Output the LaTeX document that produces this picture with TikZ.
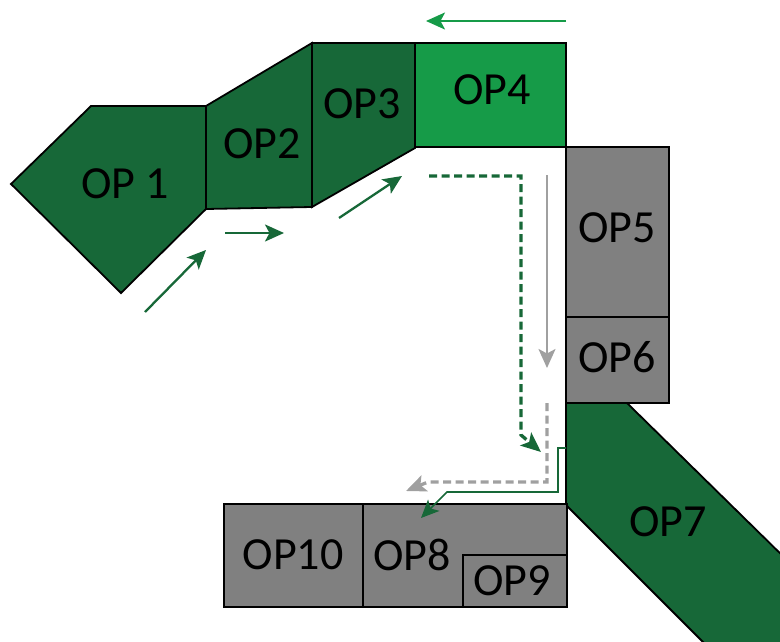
\documentclass[tikz,border=0pt]{standalone}
\usepackage{fontspec}
\setmainfont{Carlito}
\usetikzlibrary{arrows.meta}
\definecolor{opdark}{RGB}{23,104,56}
\definecolor{opbright}{RGB}{22,155,72}
\definecolor{opgray}{RGB}{128,128,128}
\definecolor{flowgray}{RGB}{160,160,160}

\begin{document}
\begin{tikzpicture}[x=1pt,y=-1pt,
  station/.style={draw=black, line width=1.8pt, line join=miter},
  darkst/.style={station, fill=opdark},
  brightst/.style={station, fill=opbright},
  grayst/.style={station, fill=opgray},
  lbl/.style={font=\fontsize{46}{50}\selectfont, inner sep=0pt},
  flow/.style={line width=2.3pt, -{Stealth[length=19pt,width=17pt,inset=4.5pt]}},
  dashflow/.style={line width=3.3pt, dash pattern=on 8pt off 4.5pt,
    -{Stealth[length=20pt,width=17pt,inset=4.5pt]}},
  thinflow/.style={line width=1.6pt, -{Stealth[length=18pt,width=16pt,inset=4.5pt]}}
]
\useasboundingbox (0,0) rectangle (780,642);

% station outlines
\draw[darkst] (11,184) -- (91,106) -- (206,106) -- (206,209) -- (121,293) -- cycle;
\draw[darkst] (206,106) -- (312,43) -- (312,207) -- (206,209) -- cycle;
\draw[darkst] (312,43) -- (415,43) -- (415,148) -- (312,207) -- cycle;
\draw[brightst] (415,43) rectangle (566,147);
\begin{scope}
  \clip (0,0) rectangle (780,642);
  \draw[darkst] (566,403) -- (627,403) -- (900,671) -- (900,800) -- (861,800) -- (566,505) -- cycle;
\end{scope}
\draw[grayst] (566,147) rectangle (669,317);
\draw[grayst] (566,317) rectangle (669,403);
\draw[grayst] (224,504) rectangle (363,607);
\draw[grayst] (363,504) rectangle (567,607);
\draw[grayst] (463,555) rectangle (567,607);

% labels
\node[lbl] (op1) at (125,184) {OP 1};
\node[lbl] (op2) at (262,144) {OP2};
\node[lbl] (op3) at (362,104) {OP3};
\node[lbl] (op4) at (492,90) {OP4};
\node[lbl] (op5) at (617,228) {OP5};
\node[lbl] (op6) at (617,357) {OP6};
\node[lbl] (op7) at (668,522) {OP7};
\node[lbl] (op10) at (293,555) {OP10};
\node[lbl] (op8) at (412,555) {OP8};
\node[lbl] (op9) at (512,581) {OP9};

% flow arrow end points
\coordinate (a1s) at (145,312);  \coordinate (a1e) at (206,250);
\coordinate (a2s) at (225,233);  \coordinate (a2e) at (284,233);
\coordinate (a3s) at (339,218);  \coordinate (a3e) at (402,176);
\coordinate (a4s) at (566,21);   \coordinate (a4e) at (426,21);
\coordinate (a5s) at (547,175);  \coordinate (a5e) at (547,368);
\coordinate (a6s) at (429,176);  \coordinate (a6c) at (521,435); \coordinate (a6e) at (541,452);
\coordinate (a7s) at (547,403);  \coordinate (a7c) at (428,482); \coordinate (a7e) at (406,491);
\coordinate (a8s) at (566,448);  \coordinate (a8b) at (558,448);
\coordinate (a8c) at (447,492);  \coordinate (a8e) at (421,518);

% flows
\draw[flow, opdark] (a1s) -- (a1e);
\draw[flow, opdark] (a2s) -- (a2e);
\draw[flow, opdark] (a3s) -- (a3e);
\draw[flow, opbright] (a4s) -- (a4e);
\draw[flow, flowgray] (a5s) -- (a5e);
\draw[dashflow, opdark] (a6s) -| (a6c) -- (a6e);
\draw[dashflow, flowgray] (a7s) |- (a7c) -- (a7e);
\draw[thinflow, opdark] (a8s) -- (a8b) |- (a8c) -- (a8e);
\end{tikzpicture}
\end{document}
